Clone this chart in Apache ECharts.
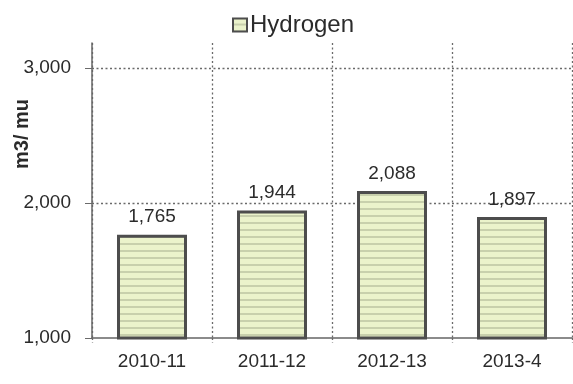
<!DOCTYPE html>
<html>
<head>
<meta charset="utf-8">
<script src="https://cdn.jsdelivr.net/npm/echarts@6/dist/echarts.min.js"></script>
<style>
  html, body { margin: 0; padding: 0; background: #fff; }
  #chart { width: 573px; height: 384px; }
</style>
</head>
<body>
<div id="chart"></div>
<script>
// Water use per mu, by season
const seasons = ['2010-11', '2011-12', '2012-13', '2013-4'];
const hydrogen = [1765, 1944, 2088, 1897];
const yTicks = [1000, 2000, 3000];
const gridValues = [2000, 3000];

// Horizontal striped fill for the bars
function stripePattern() {
  const c = document.createElement('canvas');
  c.width = 4; c.height = 7;
  const ctx = c.getContext('2d');
  ctx.fillStyle = '#ebf3cb';
  ctx.fillRect(0, 0, 4, 7);
  ctx.fillStyle = '#c8d0ac';
  ctx.fillRect(0, 5, 4, 2);
  return c;
}

const fmt = v => v.toLocaleString('en-US');
const textColor = '#2b2b2b';
const gridColor = '#6a6a6a';
const dots = [2, 2.5];

const chart = echarts.init(document.getElementById('chart'));
chart.setOption({
  animation: false,
  backgroundColor: '#fff',
  textStyle: { fontFamily: 'Liberation Sans, Arial, sans-serif' },
  legend: {
    top: 8,
    left: 227,
    icon: 'rect',
    itemWidth: 14,
    itemHeight: 13,
    itemGap: 6,
    textStyle: { fontSize: 24, color: textColor, padding: [0, 0, 0, -2] },
    data: ['Hydrogen']
  },
  grid: { left: 92, right: 1, top: 43, bottom: 46, containLabel: false },
  xAxis: {
    type: 'category',
    data: seasons,
    boundaryGap: true,
    axisLine: { show: true, lineStyle: { color: '#666', width: 1.5 } },
    axisTick: { show: true, length: 5, lineStyle: { color: gridColor, type: dots, width: 1.3 } },
    axisLabel: { fontSize: 19, color: textColor, margin: 14 },
    splitLine: { show: true, lineStyle: { color: gridColor, type: dots, width: 1.3 } }
  },
  yAxis: {
    type: 'value',
    min: 1000,
    max: 3185,
    axisLine: { show: true, lineStyle: { color: '#666', width: 1.5 } },
    axisTick: { show: true, length: 7, customValues: yTicks, lineStyle: { color: gridColor } },
    axisLabel: { fontSize: 19, color: textColor, margin: 21, customValues: yTicks, formatter: fmt },
    splitLine: { show: false }
  },
  graphic: [{
    type: 'text',
    x: 22,
    y: 134,
    rotation: Math.PI / 2,
    style: {
      text: 'm3/ mu',
      font: 'bold 20px Liberation Sans, Arial, sans-serif',
      fill: textColor,
      align: 'center',
      verticalAlign: 'middle'
    }
  }],
  series: [{
    name: 'Hydrogen',
    type: 'bar',
    data: hydrogen,
    barWidth: 70,
    z: 3,
    itemStyle: {
      color: { image: stripePattern(), repeat: 'repeat' },
      borderColor: '#4d4d4d',
      borderWidth: 3
    },
    label: {
      show: true,
      position: 'top',
      distance: 8,
      fontSize: 19,
      color: textColor,
      formatter: p => fmt(p.value)
    },
    markLine: {
      z: 1,
      silent: true,
      symbol: 'none',
      label: { show: false },
      lineStyle: { color: gridColor, type: dots, width: 1.3 },
      data: gridValues.map(v => ({ yAxis: v }))
    }
  }]
});
</script>
</body>
</html>
